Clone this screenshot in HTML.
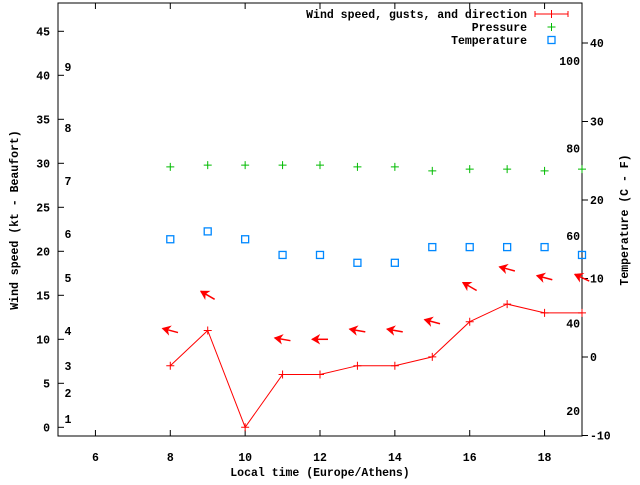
<!DOCTYPE html>
<html><head><meta charset="utf-8"><style>
body{margin:0;background:#fff}
svg text{font-family:"Liberation Mono",monospace;font-weight:bold;font-size:11.5px;fill:#000}
</style></head><body>
<svg id="chart" width="640" height="480" viewBox="0 0 640 480" xmlns="http://www.w3.org/2000/svg"></svg>
<script>
const hours=[8,9,10,11,12,13,14,15,16,17,18,19];
const windSpeed=[7,11,0,6,6,7,7,8,12,14,13,13];
const gustHours=[8,9,11,12,13,14,15,16,17,18,19];
const gust=[11,15,10,10,11,11,12,16,18,17,17];
const windDir=[105,120,100,90,100,100,105,120,105,105,115];
const temperature=[15,16,15,13,13,12,12,14,14,14,14,13];
const pressure=[75.8,76.2,76.2,76.2,76.2,75.8,75.8,74.9,75.3,75.3,74.9,75.3];
const xTicks=[6,8,10,12,14,16,18];
const yTicks=[0,5,10,15,20,25,30,35,40,45];
const tTicks=[-10,0,10,20,30,40];
const pTicks=[20,40,60,80,100];
const bft=[[1,419],[2,393],[3,366],[4,331],[5,278],[6,234],[7,181],[8,128],[9,67]];
const L=58,R=582,T=3,B=436;
const X=h=>L+(h-5)*(R-L)/14;
const Y=v=>427.3-v*8.8;
const YT=t=>357-t*7.85;
const YP=p=>411-(p-20)*87.5/20;
const svg=document.getElementById('chart');
const NS='http://www.w3.org/2000/svg';
function mk(tag,attrs,parent){const e=document.createElementNS(NS,tag);for(const k in attrs)e.setAttribute(k,attrs[k]);(parent||svg).appendChild(e);return e;}
function txt(s,x,y,anchor,name){const t=mk('text',{x:x,y:y,'text-anchor':anchor||'middle'});t.textContent=s;return t;}
// frame
const fr=mk('rect',{x:L,y:T,width:R-L,height:B-T,fill:'none',stroke:'#000','stroke-width':1});

xTicks.forEach(h=>{mk('line',{x1:X(h),x2:X(h),y1:B,y2:B-6,stroke:'#000'});mk('line',{x1:X(h),x2:X(h),y1:T,y2:T+6,stroke:'#000'});txt(String(h),X(h),461,'middle','x-tick-label');});
yTicks.forEach(v=>{mk('line',{x1:L,x2:L+6,y1:Y(v),y2:Y(v),stroke:'#000'});txt(String(v),50,Y(v)+4,'end','y-tick-label');});
tTicks.forEach(t=>{mk('line',{x1:R,x2:R+6,y1:YT(t),y2:YT(t),stroke:'#000'});txt(String(t),590,YT(t)+4,'start','temp-tick-label');});
pTicks.forEach(p=>{txt(String(p),580,YP(p)+4,'end','pressure-tick-label');});
bft.forEach(b=>{txt(String(b[0]),68,b[1]+4,'middle','beaufort-label');});
txt('Local time (Europe/Athens)',320,476,'middle','x-axis-title');
const yt=txt('Wind speed (kt - Beaufort)',0,0,'middle','y-axis-title');yt.setAttribute('transform','translate(18,220) rotate(-90)');
const tt=txt('Temperature (C - F)',0,0,'middle','y2-axis-title');tt.setAttribute('transform','translate(628,220) rotate(-90)');
// wind line
let d='';hours.forEach((h,i)=>{d+=(i?'L':'M')+X(h)+' '+Y(windSpeed[i]);});
const wl=mk('path',{d:d,fill:'none',stroke:'#f00','stroke-width':1});

hours.forEach((h,i)=>{const g=mk('path',{d:`M${X(h)-4} ${Y(windSpeed[i])}h8M${X(h)} ${Y(windSpeed[i])-4}v8`,stroke:'#f00'});});
// arrows
gustHours.forEach((h,i)=>{const th=(windDir[i]+180)*Math.PI/180;const dx=Math.sin(th),dy=-Math.cos(th);const cx=X(h),cy=Y(gust[i]);
const tx=cx+dx*8,ty=cy+dy*8,sx=cx-dx*8,sy=cy-dy*8;const px=-dy,py=dx;
const g=mk('g',{});
mk('line',{x1:sx,y1:sy,x2:tx,y2:ty,stroke:'#f00','stroke-width':1.5},g);
mk('path',{d:`M${tx} ${ty}L${tx-dx*7+px*4} ${ty-dy*7+py*4}L${tx-dx*5} ${ty-dy*5}L${tx-dx*7-px*4} ${ty-dy*7-py*4}Z`,fill:'#f00',stroke:'#f00'},g);});
// temperature
hours.forEach((h,i)=>{const r=mk('rect',{x:X(h)-3.5,y:YT(temperature[i])-3.5,width:7,height:7,fill:'none',stroke:'#08f','stroke-width':1.3});});
// pressure
hours.forEach((h,i)=>{const p=mk('path',{d:`M${X(h)-4} ${YP(pressure[i])}h8M${X(h)} ${YP(pressure[i])-4}v8`,stroke:'#0b0'});});
// legend
const lg=mk('g',{});
txt('Wind speed, gusts, and direction',527,18,'end','legend-wind-label');
txt('Pressure',527,31,'end','legend-pressure-label');
txt('Temperature',527,44,'end','legend-temperature-label');
mk('path',{d:'M535 14h33M535 11v6M568 11v6M551.5 10v8',stroke:'#f00'},lg);
mk('path',{d:'M547.5 27h8M551.5 23v8',stroke:'#0b0'},lg);
mk('rect',{x:548,y:36.5,width:7,height:7,fill:'none',stroke:'#08f','stroke-width':1.3},lg);
</script>
</body></html>
